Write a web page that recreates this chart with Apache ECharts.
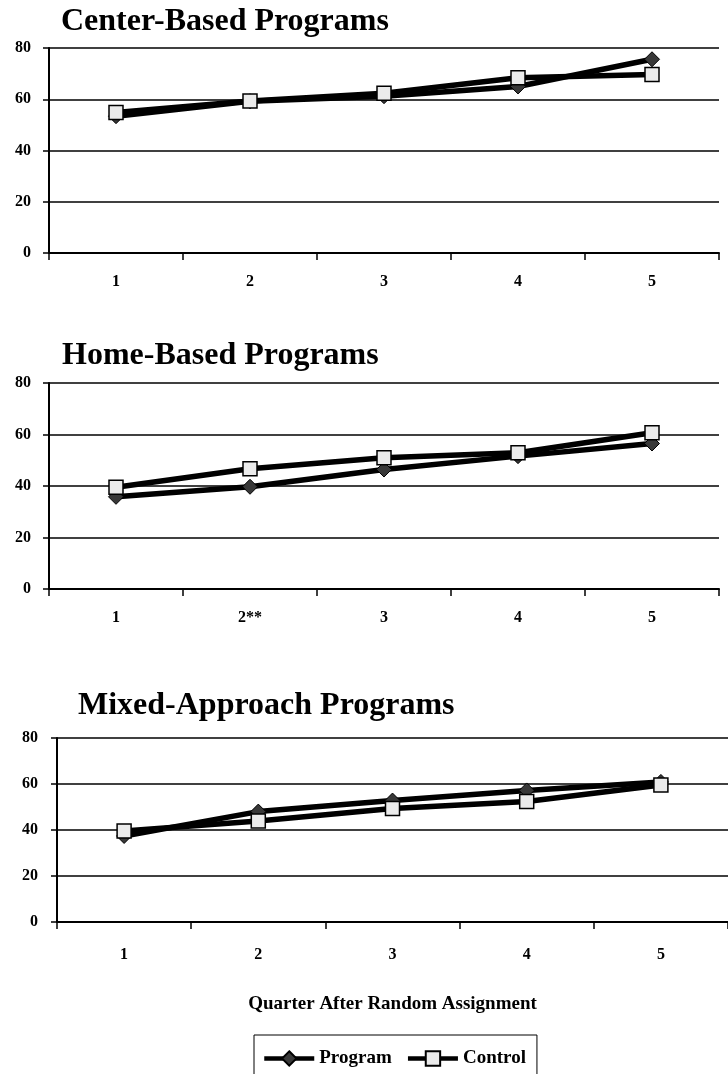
<!DOCTYPE html>
<html>
<head>
<meta charset="utf-8">
<title>Program vs Control</title>
<script src="https://cdn.jsdelivr.net/npm/echarts@6/dist/echarts.min.js"></script>
<style>
  html, body { margin: 0; padding: 0; background: #fff; }
  #chart { width: 728px; height: 1074px; }
</style>
</head>
<body>
<div id="chart"></div>
<script>
// 数据
const quarters = ["1", "2", "3", "4", "5"];
const homeQuarters = ["1", "2**", "3", "4", "5"];
const panelTitles = ["Center-Based Programs", "Home-Based Programs", "Mixed-Approach Programs"];

const centerProgram = [53.4, 59.2, 61.2, 65.0, 75.6];
const centerControl = [54.8, 59.3, 62.3, 68.4, 69.7];
const homeProgram = [35.8, 39.7, 46.4, 51.6, 56.5];
const homeControl = [39.5, 46.7, 51.0, 52.9, 60.7];
const mixedProgram = [37.4, 48.0, 52.8, 57.2, 60.9];
const mixedControl = [39.6, 43.9, 49.3, 52.4, 59.6];

const yTicks = { min: 0, max: 80, interval: 20 };

const font = "'Liberation Serif', 'Times New Roman', serif";

let chart = echarts.init(document.getElementById("chart"));

// 坐标轴公用样式
function xAxisFor(idx, cats, labelMargin) {
  return {
    type: "category",
    gridIndex: idx,
    data: cats,
    boundaryGap: true,
    axisLine: { lineStyle: { color: "#000", width: 2 } },
    axisTick: { show: true, interval: 0, length: 7, lineStyle: { color: "#000", width: 1.5 } },
    axisLabel: {
      interval: 0,
      margin: labelMargin,
      color: "#000",
      fontFamily: font,
      fontWeight: "bold",
      fontSize: 16,
    },
    splitLine: { show: false },
  };
}

function yAxisFor(idx, labelMargin) {
  return {
    type: "value",
    gridIndex: idx,
    min: yTicks.min,
    max: yTicks.max,
    interval: yTicks.interval,
    axisLine: { show: true, lineStyle: { color: "#000", width: 2 } },
    axisTick: { show: true, length: 6, lineStyle: { color: "#000", width: 1.5 } },
    axisLabel: {
      margin: labelMargin,
      color: "#000",
      fontFamily: font,
      fontWeight: "bold",
      fontSize: 16,
    },
    splitLine: { show: true, lineStyle: { color: "#000", width: 1.5 } },
  };
}

function programSeries(idx, data) {
  return {
    name: "Program",
    type: "line",
    xAxisIndex: idx,
    yAxisIndex: idx,
    data: data,
    symbol: "diamond",
    symbolSize: 15,
    lineStyle: { color: "#000", width: 5.5 },
    itemStyle: { color: "#383838", borderColor: "#000", borderWidth: 1 },
  };
}

function controlSeries(idx, data) {
  return {
    name: "Control",
    type: "line",
    xAxisIndex: idx,
    yAxisIndex: idx,
    data: data,
    symbol: "rect",
    symbolSize: 14,
    lineStyle: { color: "#000", width: 5.5 },
    itemStyle: { color: "#ebebeb", borderColor: "#000", borderWidth: 1.5 },
  };
}

let titleStyle = {
  color: "#000",
  fontFamily: font,
  fontWeight: "bold",
  fontSize: 32,
};

let mixedX = xAxisFor(2, quarters, 25);
mixedX.name = "Quarter After Random Assignment";
mixedX.nameLocation = "middle";
mixedX.nameGap = 73;
mixedX.nameTextStyle = {
  color: "#000",
  fontFamily: font,
  fontWeight: "bold",
  fontSize: 19,
};

chart.setOption({
  animation: false,
  backgroundColor: "#fff",
  title: [
    { text: panelTitles[0], left: 61, top: 6, padding: 0, textStyle: titleStyle },
    { text: panelTitles[1], left: 62, top: 340, padding: 0, textStyle: titleStyle },
    { text: panelTitles[2], left: 78, top: 690, padding: 0, textStyle: titleStyle },
  ],
  legend: {
    data: ["Program", "Control"],
    left: 254,
    top: 1035,
    orient: "horizontal",
    padding: [14, 11, 14, 8],
    itemWidth: 50,
    itemHeight: 18,
    itemGap: 14,
    borderColor: "#000",
    borderWidth: 1,
    lineStyle: { width: 4.5, color: "#000" },
    textStyle: {
      color: "#000",
      fontFamily: font,
      fontWeight: "bold",
      fontSize: 19,
    },
  },
  grid: [
    { left: 49, top: 48, width: 670, height: 205 },
    { left: 49, top: 383, width: 670, height: 206 },
    { left: 57, top: 738, width: 681, height: 184 },
  ],
  xAxis: [xAxisFor(0, quarters, 21), xAxisFor(1, homeQuarters, 21), mixedX],
  yAxis: [yAxisFor(0, 18), yAxisFor(1, 18), yAxisFor(2, 19)],
  series: [
    programSeries(0, centerProgram),
    controlSeries(0, centerControl),
    programSeries(1, homeProgram),
    controlSeries(1, homeControl),
    programSeries(2, mixedProgram),
    controlSeries(2, mixedControl),
  ],
});
</script>
</body>
</html>
